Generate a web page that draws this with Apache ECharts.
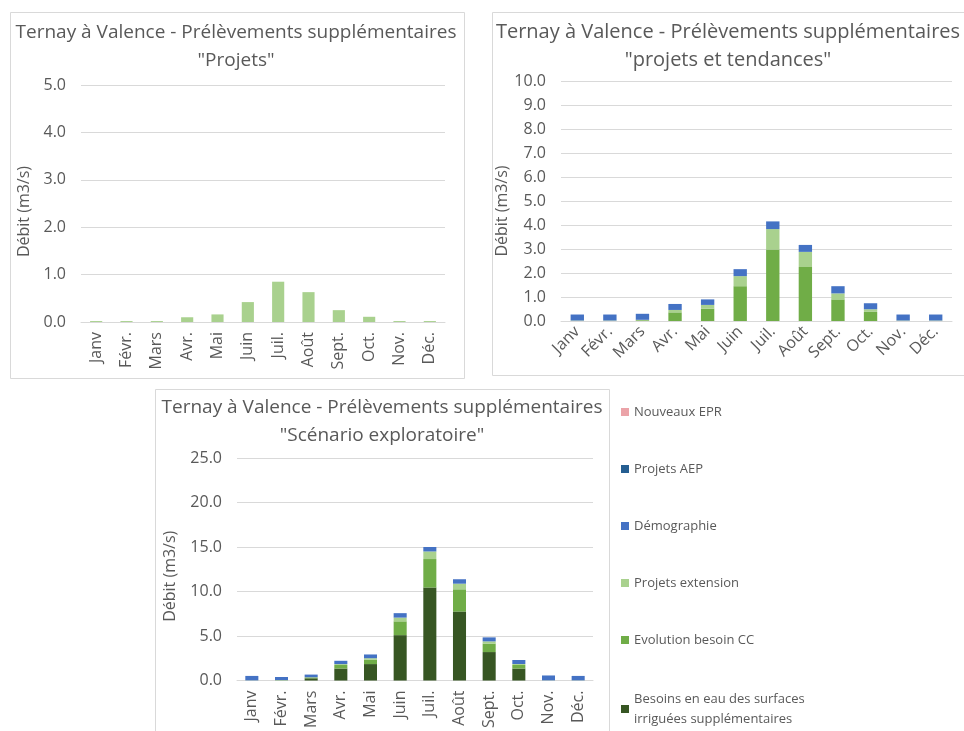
<!DOCTYPE html>
<html>
<head>
<meta charset="utf-8">
<script src="https://cdn.jsdelivr.net/npm/echarts@6/dist/echarts.min.js"></script>
<style>
  html, body { margin: 0; padding: 0; background: #ffffff; }
  #chart { width: 964px; height: 731px; }
</style>
</head>
<body>
<div id="chart"></div>
<script>
// Months on the category axis
const months = ['Janv', 'Févr.', 'Mars', 'Avr.', 'Mai', 'Juin', 'Juil.', 'Août', 'Sept.', 'Oct.', 'Nov.', 'Déc.'];

// Series names (legend order, top to bottom)
const legendNames = ['Nouveaux EPR', 'Projets AEP', 'Démographie', 'Projets extension', 'Evolution besoin CC', 'Besoins en eau des surfaces irriguées supplémentaires'];

// "Projets" scenario (m3/s)
const projetsExtension = [0.02, 0.02, 0.02, 0.10, 0.16, 0.42, 0.85, 0.63, 0.25, 0.11, 0.02, 0.02];

// "projets et tendances" scenario (m3/s)
const tendEvolutionCC = [0, 0, 0.03, 0.36, 0.51, 1.45, 2.98, 2.25, 0.90, 0.38, 0, 0];
const tendProjetsExtension = [0.02, 0.02, 0.02, 0.10, 0.16, 0.42, 0.85, 0.63, 0.25, 0.11, 0.02, 0.02];
const tendDemographie = [0.25, 0.25, 0.25, 0.25, 0.23, 0.29, 0.32, 0.29, 0.30, 0.25, 0.25, 0.25];

// "Scénario exploratoire" (m3/s)
const explBesoinsIrrigation = [0, 0, 0.25, 1.35, 1.85, 5.10, 10.45, 7.75, 3.20, 1.35, 0, 0];
const explEvolutionCC = [0, 0.03, 0.10, 0.40, 0.50, 1.55, 3.20, 2.50, 0.95, 0.40, 0, 0];
const explProjetsExtension = [0.02, 0.02, 0.02, 0.10, 0.16, 0.42, 0.85, 0.63, 0.25, 0.11, 0.02, 0.02];
const explDemographie = [0.50, 0.35, 0.30, 0.37, 0.42, 0.50, 0.50, 0.50, 0.45, 0.45, 0.55, 0.50];
const explProjetsAEP = [0, 0, 0, 0, 0, 0, 0, 0, 0, 0, 0, 0];
const explNouveauxEPR = [0, 0, 0, 0, 0, 0, 0, 0, 0, 0, 0, 0];

// Y axis ranges: [max, interval]
const yRanges = [[5, 1], [10, 1], [25, 5]];

const titleMain = 'Ternay à Valence - Prélèvements supplémentaires';
const subTitles = ['"Projets"', '"projets et tendances"', '"Scénario exploratoire"'];

const colors = {
  'Nouveaux EPR': '#EBA3A8',
  'Projets AEP': '#255E91',
  'Démographie': '#4472C4',
  'Projets extension': '#A9D18E',
  'Evolution besoin CC': '#70AD47',
  'Besoins en eau des surfaces irriguées supplémentaires': '#375623'
};

const FONT = '"Open Sans", "Noto Sans", sans-serif';
const GREY = '#595959';
const GRID_LINE = '#D9D9D9';

const grids = [
  { left: 81, right: 519, top: 85, bottom: 409 },
  { left: 561, right: 12, top: 81, bottom: 410 },
  { left: 237, right: 371, top: 458, bottom: 47 }
];

// Per-panel axis-name placement: [gap from axis, shift along axis]
const nameLayout = [[49, 16], [47, 20], [59, 14]];

const xAxes = grids.map((g, i) => ({
  type: 'category',
  gridIndex: i,
  data: months,
  axisLine: { lineStyle: { color: GRID_LINE } },
  axisTick: { show: false },
  axisLabel: {
    color: GREY, fontFamily: FONT, fontSize: 16,
    rotate: i === 1 ? 45 : 90, margin: i === 1 ? 8 : 10, interval: 0
  }
}));

const yAxes = grids.map((g, i) => ({
  type: 'value',
  gridIndex: i,
  min: 0,
  max: yRanges[i][0],
  interval: yRanges[i][1],
  name: 'Débit (m3/s)',
  nameLocation: 'middle',
  nameGap: nameLayout[i][0],
  nameTextStyle: { color: GREY, fontFamily: FONT, fontSize: 16, padding: [0, nameLayout[i][1], 0, 0] },
  axisLine: { show: false },
  axisTick: { show: false },
  axisLabel: { color: GREY, fontFamily: FONT, fontSize: 16, margin: 15, formatter: v => v.toFixed(1) },
  splitLine: { lineStyle: { color: GRID_LINE } }
}));

function bar(name, data, idx, stack, width) {
  return {
    name: name,
    type: 'bar',
    xAxisIndex: idx,
    yAxisIndex: idx,
    stack: stack,
    data: data,
    barWidth: width,
    itemStyle: { color: colors[name] },
    emphasis: { disabled: true }
  };
}

const series = [
  bar('Projets extension', projetsExtension, 0, 'p1', '40%'),

  bar('Evolution besoin CC', tendEvolutionCC, 1, 'p2', '41%'),
  bar('Projets extension', tendProjetsExtension, 1, 'p2', '41%'),
  bar('Démographie', tendDemographie, 1, 'p2', '41%'),

  bar('Besoins en eau des surfaces irriguées supplémentaires', explBesoinsIrrigation, 2, 'p3', '44%'),
  bar('Evolution besoin CC', explEvolutionCC, 2, 'p3', '44%'),
  bar('Projets extension', explProjetsExtension, 2, 'p3', '44%'),
  bar('Démographie', explDemographie, 2, 'p3', '44%'),
  bar('Projets AEP', explProjetsAEP, 2, 'p3', '44%'),
  bar('Nouveaux EPR', explNouveauxEPR, 2, 'p3', '44%')
];

// Title anchors: [center x, top y, font size]
const titleLayout = [[236, 19, 19], [728, 18, 20], [382, 394, 19]];
const titles = titleLayout.map((c, i) => ({
  text: titleMain + '\n' + subTitles[i],
  left: c[0],
  top: c[1],
  textAlign: 'center',
  padding: 0,
  textStyle: { color: GREY, fontFamily: FONT, fontSize: c[2], fontWeight: 'normal', lineHeight: 28 }
}));

const legendData = legendNames.map((n, i) => i === 5
  ? { name: n, textStyle: { lineHeight: 20 } }
  : { name: n });

const chart = echarts.init(document.getElementById('chart'), null, { renderer: 'canvas' });
chart.setOption({
  backgroundColor: '#ffffff',
  animation: false,
  title: titles,
  graphic: [
    { type: 'rect', shape: { x: 10.5, y: 12.5, width: 454, height: 366 }, style: { fill: 'none', stroke: GRID_LINE, lineWidth: 1 }, silent: true },
    { type: 'rect', shape: { x: 492.5, y: 12.5, width: 480, height: 363 }, style: { fill: 'none', stroke: GRID_LINE, lineWidth: 1 }, silent: true },
    { type: 'rect', shape: { x: 155.5, y: 389.5, width: 454, height: 360 }, style: { fill: 'none', stroke: GRID_LINE, lineWidth: 1 }, silent: true }
  ],
  legend: {
    type: 'plain',
    orient: 'vertical',
    left: 621,
    top: 404,
    padding: 0,
    height: 500,
    itemWidth: 8,
    itemHeight: 8,
    itemGap: 41,
    icon: 'rect',
    selectedMode: false,
    data: legendData,
    formatter: n => n === legendNames[5] ? 'Besoins en eau des surfaces\nirriguées supplémentaires' : n,
    textStyle: { color: GREY, fontFamily: FONT, fontSize: 13, lineHeight: 16 }
  },
  grid: grids,
  xAxis: xAxes,
  yAxis: yAxes,
  series: series
});
</script>
</body>
</html>
